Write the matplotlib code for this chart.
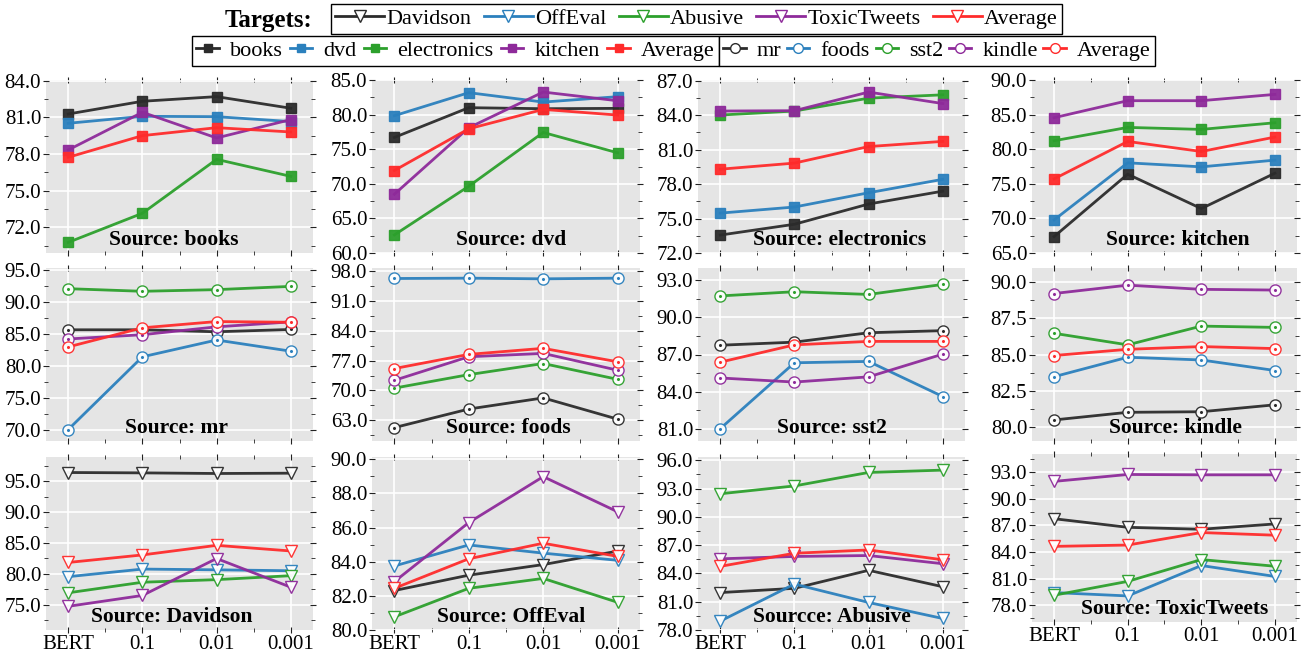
import matplotlib
matplotlib.use("Agg")
import matplotlib.pyplot as plt
from matplotlib.ticker import MultipleLocator, FormatStrFormatter
from matplotlib.lines import Line2D

plt.rcParams['font.family'] = ['Liberation Serif', 'DejaVu Serif']

x_labels = ['BERT', '0.1', '0.01', '0.001']

# targets per row
amazon_targets = ['books', 'dvd', 'electronics', 'kitchen', 'Average']
senti_targets = ['mr', 'foods', 'sst2', 'kindle', 'Average']
hate_targets = ['Davidson', 'OffEval', 'Abusive', 'ToxicTweets', 'Average']

# row 1: amazon sources
src_books = [[81.27, 82.31, 82.69, 81.74],
             [80.51, 81.08, 81.05, 80.65],
             [70.77, 73.15, 77.56, 76.17],
             [78.33, 81.41, 79.31, 80.81],
             [77.73, 79.50, 80.15, 79.80]]
src_dvd = [[76.70, 81.00, 80.85, 80.90],
           [79.84, 83.17, 81.81, 82.59],
           [62.61, 69.65, 77.42, 74.48],
           [68.49, 78.10, 83.26, 82.00],
           [71.92, 77.95, 80.75, 79.93]]
src_electronics = [[73.56, 74.50, 76.26, 77.38],
                   [75.47, 76.00, 77.24, 78.41],
                   [84.00, 84.35, 85.47, 85.76],
                   [84.35, 84.38, 86.00, 85.00],
                   [79.29, 79.82, 81.26, 81.71]]
src_kitchen = [[67.37, 76.39, 71.42, 76.53],
               [69.78, 78.03, 77.45, 78.42],
               [81.22, 83.15, 82.86, 83.82],
               [84.55, 87.01, 87.01, 87.92],
               [75.71, 81.12, 79.67, 81.75]]

# row 2: sentiment sources
src_mr = [[85.62, 85.62, 85.31, 85.67],
          [70.00, 81.39, 84.02, 82.27],
          [92.06, 91.65, 91.91, 92.42],
          [84.18, 84.85, 86.08, 86.86],
          [82.94, 85.93, 86.91, 86.80]]
src_foods = [[61.25, 65.62, 68.24, 63.24],
             [96.33, 96.41, 96.25, 96.41],
             [70.54, 73.71, 76.33, 72.60],
             [72.37, 77.92, 78.71, 74.75],
             [75.14, 78.48, 79.90, 76.73]]
src_sst2 = [[87.75, 88.00, 88.76, 88.93],
            [81.00, 86.33, 86.44, 83.60],
            [91.74, 92.08, 91.86, 92.67],
            [85.10, 84.77, 85.19, 87.03],
            [86.38, 87.78, 88.06, 88.06]]
src_kindle = [[80.46, 80.99, 81.03, 81.51],
              [83.46, 84.81, 84.62, 83.89],
              [86.47, 85.67, 86.97, 86.88],
              [89.23, 89.81, 89.52, 89.47],
              [84.93, 85.36, 85.55, 85.41]]

# row 3: hate speech sources
src_davidson = [[96.39, 96.33, 96.23, 96.28],
                [79.53, 80.76, 80.64, 80.49],
                [76.92, 78.63, 79.05, 79.69],
                [74.73, 76.49, 82.47, 77.83],
                [81.83, 83.05, 84.60, 83.69]]
src_offeval = [[82.31, 83.21, 83.83, 84.62],
               [83.75, 84.98, 84.50, 84.08],
               [80.77, 82.44, 83.02, 81.62],
               [82.83, 86.29, 88.98, 86.92],
               [82.44, 84.17, 85.08, 84.31]]
src_abusive = [[81.97, 82.42, 84.33, 82.59],
               [78.94, 82.87, 80.92, 79.22],
               [92.45, 93.28, 94.71, 94.96],
               [85.55, 85.80, 85.90, 85.03],
               [84.75, 86.14, 86.49, 85.45]]
src_toxic = [[87.75, 86.78, 86.56, 87.16],
             [79.42, 79.04, 82.47, 81.24],
             [79.12, 80.68, 83.14, 82.39],
             [91.96, 92.74, 92.70, 92.70],
             [84.63, 84.78, 86.19, 85.89]]

colors = ['#2b2b2b', '#2b80bd', '#2ca02c', '#8e2a9a', '#ff2b2b']

panels = [
    (src_books, 'Source: books', 's', (69.9, 84.05), 3, 0.48),
    (src_dvd, 'Source: dvd', 's', (60, 85.0), 5, 0.52),
    (src_electronics, 'Source: electronics', 's', (72, 87.05), 3, 0.53),
    (src_kitchen, 'Source: kitchen', 's', (65, 90.0), 5, 0.55),
    (src_mr, 'Source: mr', 'o', (68.2, 95.3), 5, 0.49),
    (src_foods, 'Source: foods', 'o', (58.1, 98.8), 7, 0.51),
    (src_sst2, 'Source: sst2', 'o', (80.0, 94.0), 3, 0.50),
    (src_kindle, 'Source: kindle', 'o', (79.0, 91.0), 2.5, 0.54),
    (src_davidson, 'Source: Davidson', 'v', (70.9, 98.9), 5, 0.47),
    (src_offeval, 'Source: OffEval', 'v', (80.0, 90.13), 2, 0.52),
    (src_abusive, 'Sourcce: Abusive', 'v', (78.0, 96.35), 3, 0.50),
    (src_toxic, 'Source: ToxicTweets', 'v', (76.1, 95.05), 3, 0.54),
]

W, H = 1306, 656
fig = plt.figure(figsize=(W / 100, H / 100), dpi=100)

col_left = [46, 372, 698, 1032]
col_w = [267, 268, 267, 265]
row_top = [80, 268, 457]
row_h = 173

x = list(range(len(x_labels)))
for i, (data, title, mk, ylim, step, tx) in enumerate(panels):
    r, c = divmod(i, 4)
    top, hgt = row_top[r], row_h
    if i == 11:
        top, hgt = 454, 168
    ax = fig.add_axes([col_left[c] / W, 1 - (top + hgt) / H, col_w[c] / W, hgt / H])
    ax.set_facecolor('#e5e5e5')
    for s in ax.spines.values():
        s.set_visible(False)
    ax.grid(True, color='white', linewidth=1.2)
    ax.set_axisbelow(True)
    for j, ys in enumerate(data):
        if mk == 's':
            ax.plot(x, ys, color=colors[j], marker='s', markersize=7, linewidth=2, alpha=0.95)
        elif mk == 'o':
            ax.plot(x, ys, color=colors[j], marker='o', markersize=8, markerfacecolor='white',
                    markeredgewidth=1.0, linewidth=2, alpha=0.95)
            ax.plot(x, ys, linestyle='none', marker='o', markersize=1.2, color=colors[j])
        else:
            ax.plot(x, ys, color=colors[j], marker='v', markersize=9, markerfacecolor='white',
                    markeredgewidth=1.0, linewidth=2, alpha=0.95)
    ax.set_xlim(-0.3, 3.3)
    ax.set_ylim(*ylim)
    ax.set_xticks(x)
    ax.xaxis.set_minor_locator(MultipleLocator(0.5))
    ax.yaxis.set_major_locator(MultipleLocator(step))
    ax.yaxis.set_minor_locator(MultipleLocator(step / 2))
    ax.yaxis.set_major_formatter(FormatStrFormatter('%.1f'))
    if r == 2:
        ax.set_xticklabels(x_labels)
    else:
        ax.set_xticklabels([])
    ax.tick_params(which='both', direction='inout', top=True, right=True, labelsize=15,
                   color='#222222', pad=1)
    ax.tick_params(which='major', length=5)
    ax.tick_params(which='minor', length=3)
    ax.text(tx, 0.015, title, transform=ax.transAxes, ha='center', va='bottom',
            fontsize=15.5, fontweight='bold')


def handles(mk, names):
    hs = []
    for j, n in enumerate(names):
        if mk == 's':
            h = Line2D([], [], color=colors[j], marker='s', markersize=6, linewidth=2)
        elif mk == 'o':
            h = Line2D([], [], color=colors[j], marker='o', markersize=7, markerfacecolor='white', linewidth=2)
        else:
            h = Line2D([], [], color=colors[j], marker='v', markersize=8, markerfacecolor='white', linewidth=2)
        hs.append(h)
    return hs


leg_kw = dict(loc='center', mode='expand', frameon=True, fancybox=False, edgecolor='black',
              framealpha=1, fontsize=16, borderpad=0.2, borderaxespad=0)


def box(x0, y0, x1, y1):
    return (x0 / W, 1 - y1 / H, (x1 - x0) / W, (y1 - y0) / H)


fig.text(312 / W, 1 - 20 / H, 'Targets:', ha='right', va='center', fontsize=18,
         fontweight='bold', zorder=10)
l1 = fig.legend(handles('v', hate_targets), hate_targets, ncol=5, handlelength=2.2,
                handletextpad=0.1, columnspacing=0.0, bbox_to_anchor=box(331, 2, 1062, 36), **leg_kw)
l2 = fig.legend(handles('s', amazon_targets), amazon_targets, ncol=5, handlelength=1.0,
                handletextpad=0.5, columnspacing=0.2, bbox_to_anchor=box(192, 35, 719, 67), **leg_kw)
l3 = fig.legend(handles('o', senti_targets), senti_targets, ncol=5, handlelength=1.0,
                handletextpad=0.5, columnspacing=0.2, bbox_to_anchor=box(719, 35, 1155, 67), **leg_kw)
for lg in (l1, l2, l3):
    lg.get_frame().set_linewidth(1.0)

fig.savefig('out.png', dpi=100)
